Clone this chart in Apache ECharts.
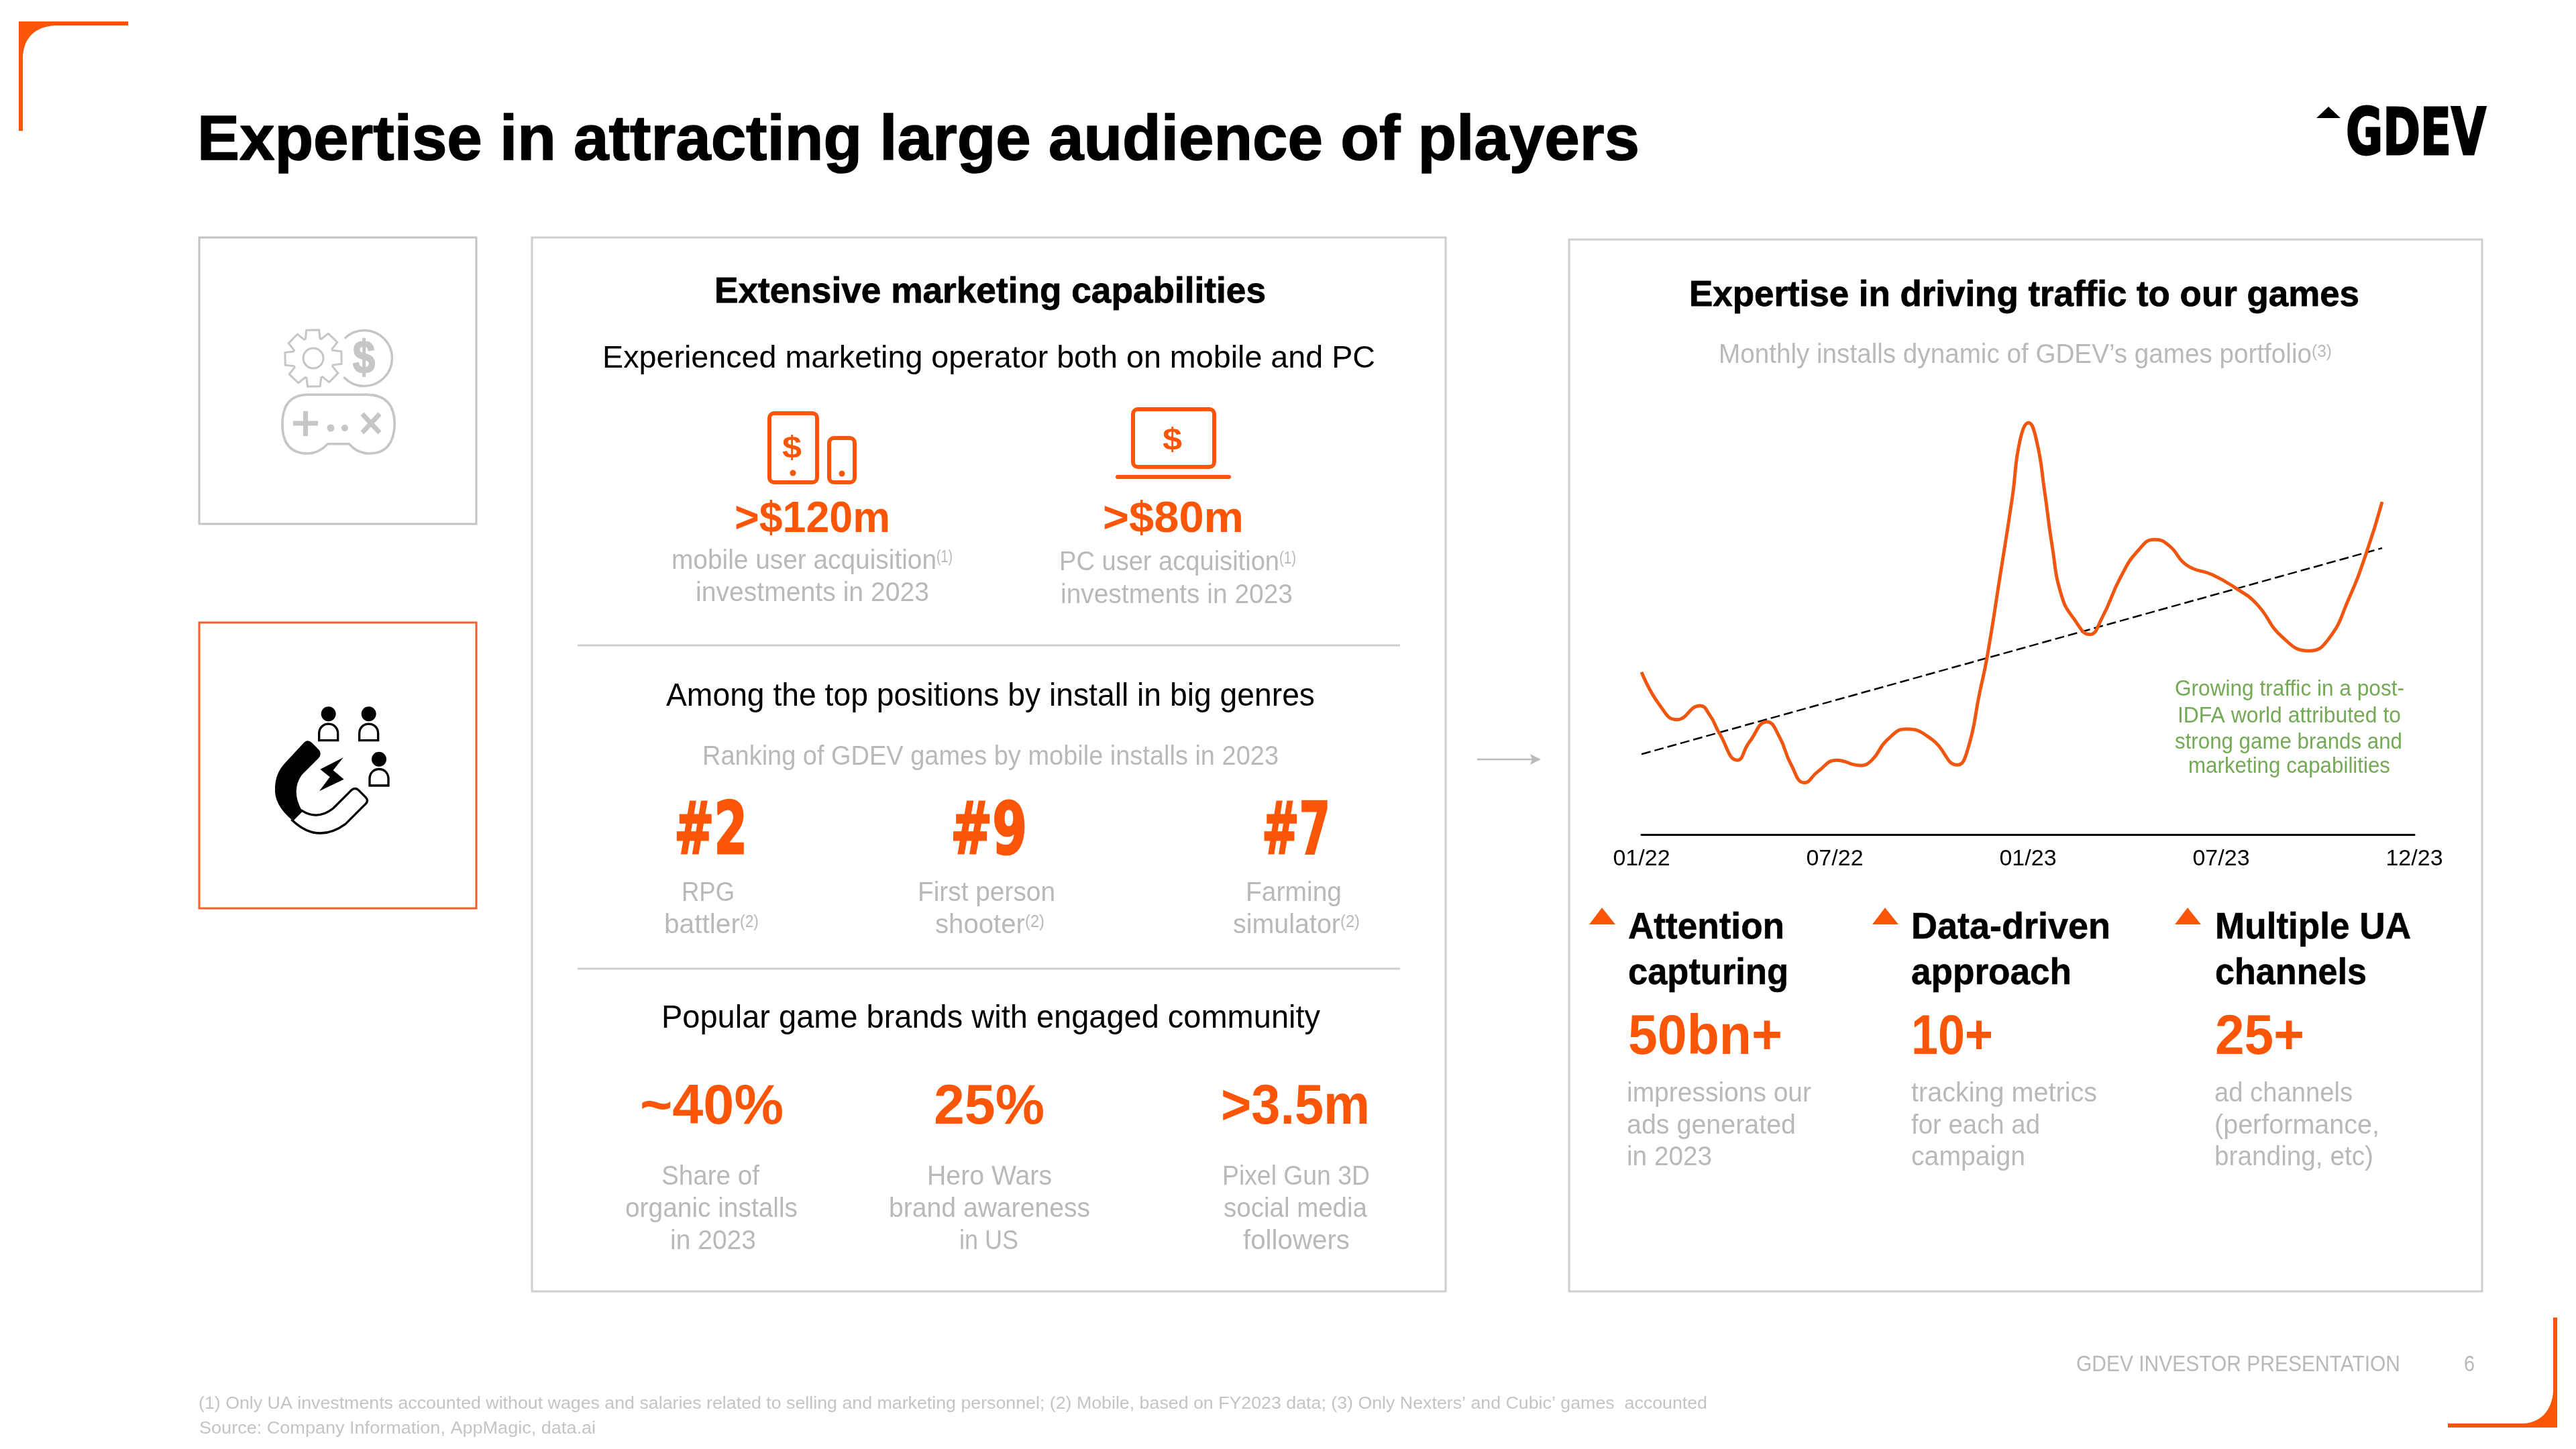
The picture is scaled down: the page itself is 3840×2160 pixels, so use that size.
<!DOCTYPE html>
<html><head><meta charset="utf-8">
<style>html,body{margin:0;padding:0;background:#fff}#c{width:3840px;height:2160px}</style>
<script src="https://cdn.jsdelivr.net/npm/echarts@6/dist/echarts.min.js"></script>
</head><body><div id="c"></div>
<script>
// Chart data (month index from 01/22, relative installs index)
const tickLabels = ['01/22','07/22','01/23','07/23','12/23'];
const months = [0,0.55,1.1,1.81,2.13,2.42,2.98,3.34,3.9,4.27,4.65,5.06,5.48,6.06,6.79,7.15,7.63,8.23,9.02,9.81,10.13,10.5,10.73,11.13,11.52,11.75,12.02,12.27,12.52,12.75,13.04,13.44,13.92,14.31,14.88,15.43,15.94,16.38,16.94,17.74,18.46,19.1,19.9,20.73,21.33,21.96,22.52,23];
const installs = [37.6,30.1,26.6,29.8,27.5,23.4,17.2,21.3,26.1,22.8,16.1,12.0,14.6,17.2,16.0,17.2,21.9,24.4,22.0,16.1,19.7,32.8,41.0,59.6,78.3,91.1,95.3,91.1,79.3,66.9,55.4,49.8,46.3,50.3,59.6,65.8,68.3,66.9,62.3,60.1,57.0,53.4,45.7,42.5,45.2,54.5,65.4,77.0];
const trendMonths = [0,23];
const trendValues = [18.6,66.3];

const ORANGE='#fb5607', GRAY='#b9b9b9', BOX='#cfcfcf', GREEN='#74a955', BLACK='#000';
const FONT='"Liberation Sans", Arial, sans-serif';
const mctx=document.createElement('canvas').getContext('2d');
const els=[];
function T(text,x0,x1,base,size,fill,weight,fam,stroke){
  const font=(weight||'normal')+' '+size+'px '+(fam||FONT);
  mctx.font=font;
  const sx=(x1-x0)/mctx.measureText(text).width;
  const st={text,font,fill,align:'left',textAlign:'left',verticalAlign:'middle',textVerticalAlign:'middle'};
  if(stroke){st.stroke=fill;st.lineWidth=stroke;}
  els.push({type:'text',x:x0,y:base-0.27*size,scaleX:sx,style:st,silent:true});
}
function box(x0,y0,x1,y1,c,w,r){
  els.push({type:'rect',shape:{x:x0,y:y0,width:x1-x0,height:y1-y0,r:r||0},style:{fill:'none',stroke:c,lineWidth:w||3},silent:true});
}
function line(x0,y0,x1,y1,c,w,cap){
  els.push({type:'line',shape:{x1:x0,y1:y0,x2:x1,y2:y1},style:{stroke:c,lineWidth:w||3,lineCap:cap||'butt'},silent:true});
}
function poly(points,fill){els.push({type:'polygon',shape:{points},style:{fill},silent:true});}
function circ(cx,cy,r,fill,stroke,w){
  els.push({type:'circle',shape:{cx,cy,r},style:{fill:fill||'none',stroke:stroke||'none',lineWidth:w||0},silent:true});
}
let pid=0;
function P(d,style,x,y,s){
  const name='resketchPath'+(pid++);
  echarts.graphic.registerShape(name,echarts.graphic.extendPath(d,{}));
  els.push({type:name,x:x||0,y:y||0,scaleX:s||1,scaleY:s||1,style,silent:true});
}

// Corners
P('M28 32H191V38H82C52 40 36 56 34 84V195H28Z',{fill:ORANGE});
P('M3812 1964V2128H3649V2122H3762C3790 2120 3804 2100 3806 2075V1964Z',{fill:ORANGE});

// Title and logo
T('Expertise in attracting large audience of players',294,2444,237,94,BLACK,'bold',null,1.5);
poly([[3453,176],[3471,159],[3489,176]],BLACK);
T('GDEV',3497,3706,231,96,BLACK,'bold','"DejaVu Sans"',3);

// Left boxes
box(297,354,710,781,'#c4c4c4');
box(297,928,710,1354,'#f0602a');

// Gear and dollar icon
const IC='#c6c6c6', gear=[];
for(let i=0;i<8;i++){
  const a=i*Math.PI/4-Math.PI/2;
  [[-0.39,31],[-0.24,43],[0.2,43],[0.33,31]].forEach(p=>{
    gear.push([467+p[1]*Math.cos(a+p[0]),534+p[1]*Math.sin(a+p[0])]);
  });
}
els.push({type:'polygon',shape:{points:gear},style:{fill:'none',stroke:IC,lineWidth:3},silent:true});
circ(467,534,15,'none',IC,3);
els.push({type:'arc',shape:{cx:543,cy:534,r:41.5,startAngle:-2.35,endAngle:2.4},style:{fill:'none',stroke:IC,lineWidth:3.5},silent:true});
T('$',526,559,556,68,IC,'bold',FONT,2);
P('M900 1153H1070Q1153 1153 1153 1240Q1150 1325 1080 1325Q1045 1325 1020 1297H958Q930 1325 900 1325Q825 1325 825 1240Q825 1153 900 1153Z',{fill:'none',stroke:IC,lineWidth:7},0,0,1/1.96);
line(437,631,474,631,IC,7); line(455.5,613,455.5,650,IC,7);
circ(493,638,5.5,IC); circ(514,638,5,IC);
line(540,617,566,645,IC,7); line(566,617,540,645,IC,7);

// Magnet and people icon
const MX=260,MY=900,MS=1/3;
P('M580 620Q597 605 615 622L645 652Q662 670 645 690L570 765Q520 835 570 925L527 968Q445 900 450 825Q450 760 495 712Z',{fill:BLACK},MX,MY,MS);
P('M570 925Q640 970 710 915L790 835Q808 818 825 835L855 865Q870 880 855 895L765 985Q640 1075 527 968Z',{fill:'none',stroke:BLACK,lineWidth:10},MX,MY,MS);
poly([[755,688],[652,740],[695,775],[648,838],[758,785],[710,745]].map(p=>[MX+p[0]*MS,MY+p[1]*MS]),BLACK);
[[689,493],[869,493],[915,695]].forEach(c=>{
  circ(MX+c[0]*MS,MY+c[1]*MS,11,BLACK);
  P('M'+(c[0]-42)+' '+(c[1]+118)+'V'+(c[1]+88)+'C'+(c[0]-42)+' '+(c[1]+30)+' '+(c[0]+42)+' '+(c[1]+30)+' '+(c[0]+42)+' '+(c[1]+88)+'V'+(c[1]+118)+'Z',{fill:'none',stroke:BLACK,lineWidth:10},MX,MY,MS);
});

// Middle panel
box(793,354,2155,1925,BOX);
T('Extensive marketing capabilities',1065,1887,451,54,BLACK,'bold',null,0.8);
T('Experienced marketing operator both on mobile and PC',898,2050,548,47,BLACK);
box(1147,616,1218,719,ORANGE,6,7);
T('$',1166,1195,683,46,ORANGE,'bold');
circ(1182,705,4.5,ORANGE);
box(1236,653,1274,719,ORANGE,6,7);
circ(1255,706,4.5,ORANGE);
box(1689,610,1810,696,ORANGE,6,7);
T('$',1733,1762,671,46,ORANGE,'bold');
line(1666,711,1832,711,ORANGE,6,'round');
T('>$120m',1095,1327,793,64,ORANGE,'bold');
T('>$80m',1644,1854,793,64,ORANGE,'bold');
T('mobile user acquisition',1001,1396,848,41,GRAY);
T('(1)',1396,1420,838,25,GRAY);
T('investments in 2023',1037,1385,896,41,GRAY);
T('PC user acquisition',1579,1907,850,41,GRAY);
T('(1)',1907,1932,840,25,GRAY);
T('investments in 2023',1581,1927,899,41,GRAY);
line(861,962,2087,962,BOX,3);

T('Among the top positions by install in big genres',993,1960,1052,48,BLACK);
T('Ranking of GDEV games by mobile installs in 2023',1047,1906,1140,41,GRAY);
T('#2',1005,1114,1273,107,ORANGE,'bold','"DejaVu Sans"',3);
T('#9',1417,1531,1273,107,ORANGE,'bold','"DejaVu Sans"',3);
T('#7',1881,1983,1273,107,ORANGE,'bold','"DejaVu Sans"',3);
T('RPG',1016,1095,1343,41,GRAY);
T('battler',990,1103,1391,41,GRAY);
T('(2)',1103,1131,1382,26,GRAY);
T('First person',1368,1573,1343,41,GRAY);
T('shooter',1394,1528,1391,41,GRAY);
T('(2)',1528,1557,1382,26,GRAY);
T('Farming',1857,2000,1343,41,GRAY);
T('simulator',1838,1998,1391,41,GRAY);
T('(2)',1998,2027,1382,26,GRAY);
line(861,1444,2087,1444,BOX,3);

T('Popular game brands with engaged community',986,1968,1532,48,BLACK);
T('~40%',954,1168,1675,83,ORANGE,'bold');
T('25%',1392,1557,1675,83,ORANGE,'bold');
T('>3.5m',1820,2042,1675,83,ORANGE,'bold');
T('Share of',986,1132,1766,41,GRAY);
T('organic installs',932,1189,1814,41,GRAY);
T('in 2023',999,1127,1862,41,GRAY);
T('Hero Wars',1382,1568,1766,41,GRAY);
T('brand awareness',1325,1625,1814,41,GRAY);
T('in US',1430,1518,1862,41,GRAY);
T('Pixel Gun 3D',1822,2042,1766,41,GRAY);
T('social media',1824,2038,1814,41,GRAY);
T('followers',1853,2012,1862,41,GRAY);

// Arrow between panels
line(2202,1132,2294,1132,'#bbbbbb',2.5);
poly([[2297,1132],[2281,1124],[2284,1132],[2281,1140]],'#bbbbbb');

// Right panel
box(2339,357,3700,1925,BOX);
T('Expertise in driving traffic to our games',2518,3517,456,54,BLACK,'bold',null,0.8);
T('Monthly installs dynamic of GDEV\u2019s games portfolio',2562,3446,541,41,GRAY);
T('(3)',3446,3476,532,26,GRAY);
T('Growing traffic in a post-',3242,3584,1037,33,GREEN);
T('IDFA world attributed to',3246,3579,1077,33,GREEN);
T('strong game brands and',3242,3581,1116,33,GREEN);
T('marketing capabilities',3262,3563,1152,33,GREEN);

poly([[2369,1378],[2388,1353],[2408,1378]],ORANGE);
poly([[2791,1378],[2810,1353],[2830,1378]],ORANGE);
poly([[3242,1378],[3261,1353],[3281,1378]],ORANGE);
T('Attention',2427,2660,1399,56,BLACK,'bold',null,0.6);
T('capturing',2427,2666,1467,56,BLACK,'bold',null,0.6);
T('Data-driven',2849,3146,1399,56,BLACK,'bold',null,0.6);
T('approach',2849,3088,1467,56,BLACK,'bold',null,0.6);
T('Multiple UA',3302,3594,1399,56,BLACK,'bold',null,0.6);
T('channels',3302,3528,1467,56,BLACK,'bold',null,0.6);
T('50bn+',2427,2657,1571,83,ORANGE,'bold');
T('10+',2849,2971,1571,83,ORANGE,'bold');
T('25+',3302,3435,1571,83,ORANGE,'bold');
T('impressions our',2425,2700,1642,41,GRAY);
T('ads generated',2425,2677,1690,41,GRAY);
T('in 2023',2425,2552,1737,41,GRAY);
T('tracking metrics',2849,3126,1642,41,GRAY);
T('for each ad',2849,3041,1690,41,GRAY);
T('campaign',2849,3019,1737,41,GRAY);
T('ad channels',3301,3507,1642,41,GRAY);
T('(performance,',3301,3547,1690,41,GRAY);
T('branding, etc)',3301,3538,1737,41,GRAY);

// Footer
T('GDEV INVESTOR PRESENTATION',3095,3578,2044,33,GRAY);
T('6',3673,3689,2044,33,GRAY);
T('(1) Only UA investments accounted without wages and salaries related to selling and marketing personnel; (2) Mobile, based on FY2023 data; (3) Only Nexters\u2019 and Cubic\u2019 games  accounted',296,2545,2100,26,'#c4c4c4');
T('Source: Company Information, AppMagic, data.ai',297,888,2137,26,'#c4c4c4');

const chart=echarts.init(document.getElementById('c'),null,{renderer:'canvas',width:3840,height:2160});
chart.setOption({
  animation:false,
  backgroundColor:'#fff',
  grid:{left:2447,width:1152,top:600,height:644},
  xAxis:{type:'value',min:0,max:24,interval:6,
    axisLine:{show:true,onZero:false,lineStyle:{color:'#000',width:3}},
    axisTick:{show:false},splitLine:{show:false},
    axisLabel:{show:true,margin:20,color:'#000',fontSize:34,fontFamily:FONT,showMinLabel:true,showMaxLabel:true,hideOverlap:false,
      formatter:v=>tickLabels[v/6]}},
  yAxis:{type:'value',min:0,max:100,show:false},
  graphic:{elements:els},
  series:[
    {type:'line',name:'Trend',data:trendMonths.map((m,i)=>[m,trendValues[i]]),symbol:'none',silent:true,
      lineStyle:{color:'#000',width:2.5,type:[14,6]}},
    {type:'line',name:'Monthly installs',data:months.map((m,i)=>[m,installs[i]]),symbol:'none',smooth:0.5,silent:true,
      lineStyle:{color:'#f0560f',width:5}}
  ]
});
</script></body></html>
